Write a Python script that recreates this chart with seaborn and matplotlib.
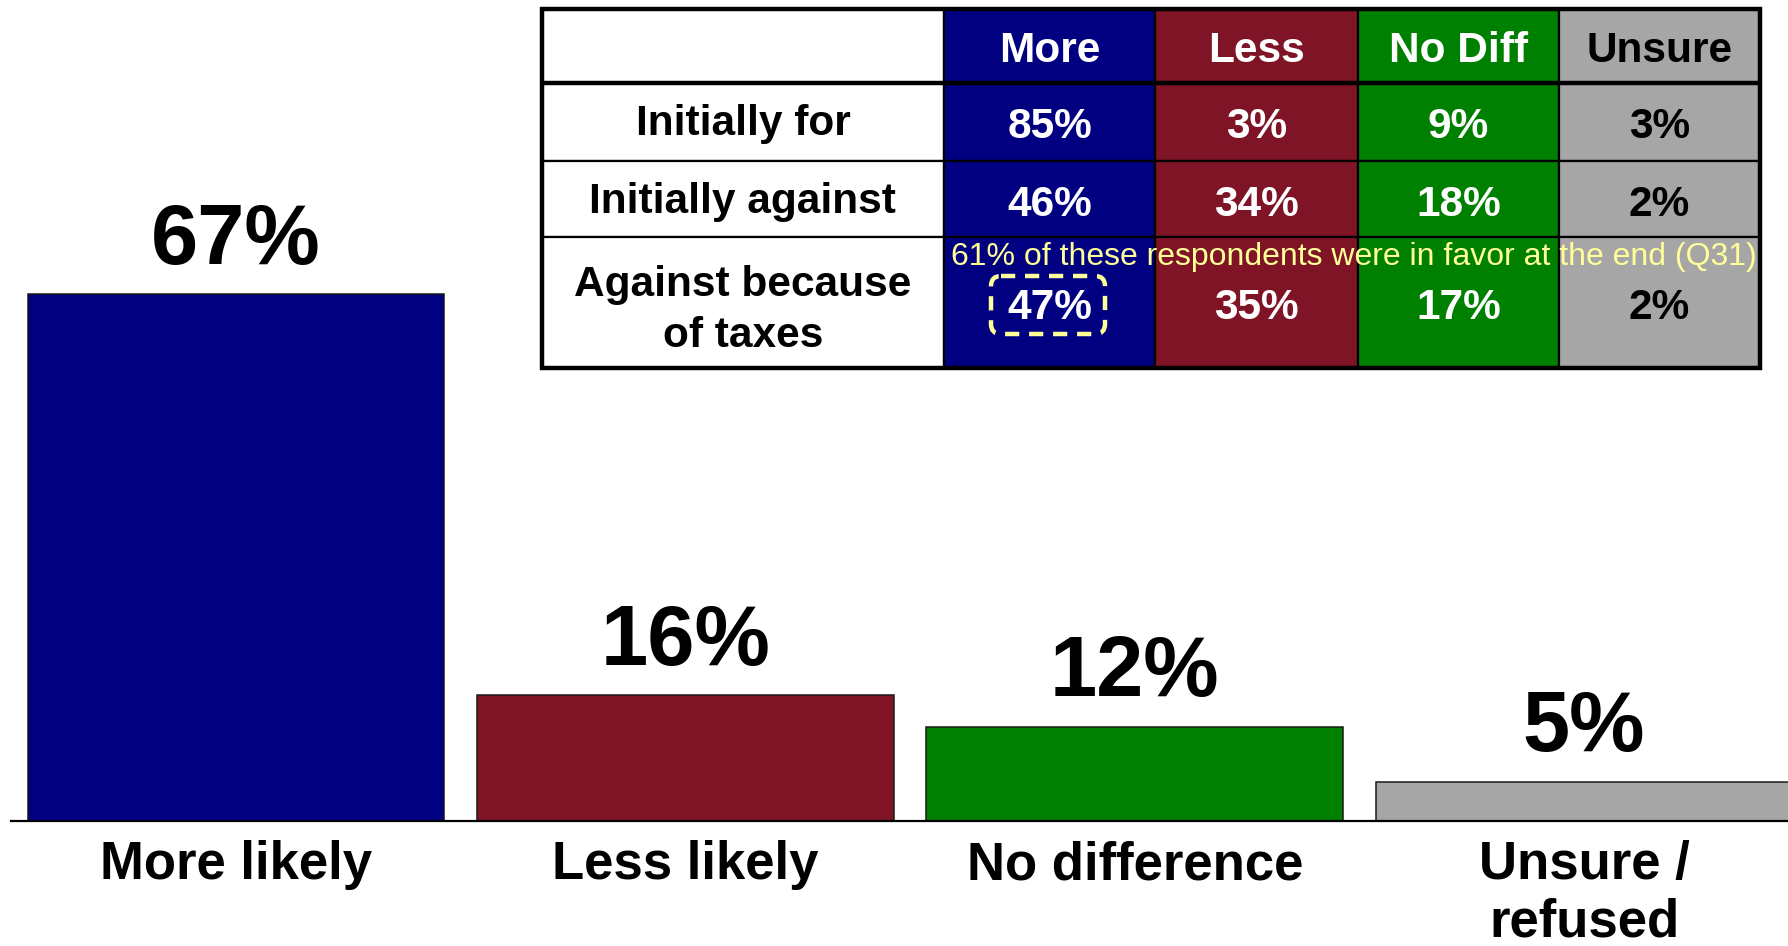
import matplotlib
matplotlib.use("Agg")
import matplotlib.pyplot as plt
from matplotlib.patches import Rectangle, FancyBboxPatch
import seaborn as sns
import pandas as pd

# ---------------- data ----------------
categories = ["More likely", "Less likely", "No difference", "Unsure /\nrefused"]
values = [67, 16, 12, 5]
bar_colors = ["#000080", "#7F1426", "#008000", "#A6A6A6"]

table_cols = ["More", "Less", "No Diff", "Unsure"]
table_rows = ["Initially for", "Initially against", "Against because\nof taxes"]
table_more = [85, 46, 47]
table_less = [3, 34, 35]
table_nodiff = [9, 18, 17]
table_unsure = [3, 2, 2]
table_text_colors = ["white", "white", "white", "black"]
note = "61% of these respondents were in favor at the end (Q31)"

# ---------------- style ----------------
sns.set_theme(style="white")
plt.rcParams["font.family"] = ["Liberation Sans", "DejaVu Sans"]
plt.rcParams["font.weight"] = "bold"

W, H = 1788, 946
fig = plt.figure(figsize=(W / 100, H / 100), dpi=100)
fig.patch.set_facecolor("white")

# ---------------- bar chart ----------------
ax = fig.add_axes([0.0064, 0.1321, 0.9936, 0.8679])
df = pd.DataFrame({"cat": categories, "val": values})
sns.barplot(data=df, x="cat", y="val", hue="cat", palette=bar_colors,
            width=0.927, edgecolor="#1a1a1a", linewidth=1.1,
            legend=False, ax=ax, saturation=1)
ax.set_xlim(-0.5, 3.454)
ax.set_ylim(0, 104.4)
for s in ["left", "right", "top"]:
    ax.spines[s].set_visible(False)
ax.spines["bottom"].set_color("black")
ax.spines["bottom"].set_linewidth(1.6)
ax.set_yticks([])
ax.set_xlabel("")
ax.set_ylabel("")
ax.tick_params(axis="x", length=0, pad=14)
ax.set_xticks(range(len(categories)))
ax.set_xticklabels(categories, fontsize=38, fontweight="bold", color="black",
                   linespacing=1.18)
ax.set_facecolor("white")
for i, v in enumerate(values):
    ax.annotate(f"{v}%", xy=(i, v), xytext=(0, 22), textcoords="offset points",
                ha="center", va="baseline", fontsize=61, fontweight="bold",
                color="black")

# ---------------- table overlay ----------------
tab = fig.add_axes([0, 0, 1, 1], zorder=5)
tab.set_xlim(0, W)
tab.set_ylim(H, 0)
tab.axis("off")
tab.patch.set_alpha(0)

col_edges = [541.6, 944.2, 1155.1, 1358.1, 1558.8, 1759.5]
row_edges = [9.1, 83.2, 160.8, 237.2, 368.3]
cols_data = [table_more, table_less, table_nodiff, table_unsure]

def cell(ci, ri, color):
    x0, x1 = col_edges[ci], col_edges[ci + 1]
    y0, y1 = row_edges[ri], row_edges[ri + 1]
    tab.add_patch(Rectangle((x0, y0), x1 - x0, y1 - y0, facecolor=color,
                            edgecolor="black", linewidth=1.6))
    return (x0 + x1) / 2, (y0 + y1) / 2

# header row
cell(0, 0, "white")
for j, name in enumerate(table_cols):
    cx, cy = cell(j + 1, 0, bar_colors[j])
    tab.text(cx, cy, name, ha="center", va="center_baseline", fontsize=30.5,
             fontweight="bold", color=table_text_colors[j])
# body rows
for i, rname in enumerate(table_rows):
    cx, cy = cell(0, i + 1, "white")
    tab.text(cx, cy - 2, rname, ha="center", va="center_baseline", fontsize=30.5,
             fontweight="bold", color="black", linespacing=1.35)
    for j in range(len(table_cols)):
        cx, cy = cell(j + 1, i + 1, bar_colors[j])
        tab.text(cx, cy + 1, f"{cols_data[j][i]}%", ha="center",
                 va="center_baseline", fontsize=30.5, fontweight="bold",
                 color=table_text_colors[j])

# thick outer border and header separator
tab.add_patch(Rectangle((col_edges[0], row_edges[0]),
                        col_edges[-1] - col_edges[0],
                        row_edges[-1] - row_edges[0],
                        facecolor="none", edgecolor="black", linewidth=3.2))
tab.plot([col_edges[0], col_edges[-1]], [row_edges[1], row_edges[1]],
         color="black", linewidth=3.2, solid_capstyle="butt")

# note and dashed highlight
tab.text(1354, 264.5, note, ha="center", va="baseline", fontsize=23,
         fontweight="normal", color="#FFFF99")
tab.add_patch(FancyBboxPatch((996, 281), 104, 48,
                             boxstyle="round,pad=5,rounding_size=10",
                             facecolor="none", edgecolor="#FFFF99",
                             linewidth=3.2, linestyle=(0, (3.2, 2.2))))

fig.savefig("out.png", dpi=100, facecolor="white")
